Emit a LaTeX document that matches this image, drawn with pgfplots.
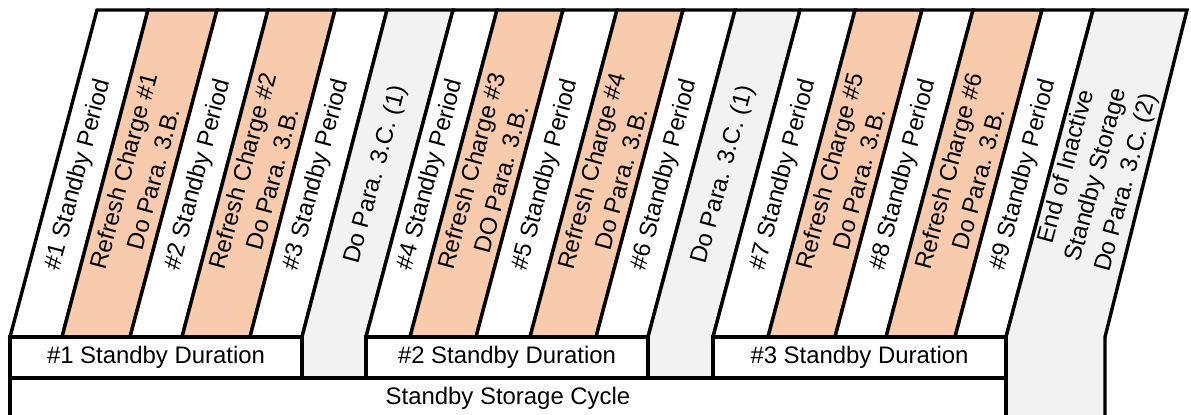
\documentclass[border=0pt]{standalone}
\usepackage{pgfplots}
\pgfplotsset{compat=1.18}
\usepackage{fontspec}
\setmainfont{Liberation Sans}
\definecolor{peach}{HTML}{F8CBAD}
\definecolor{lgray}{HTML}{F2F2F2}
\begin{document}
\begin{tikzpicture}
\begin{axis}[
    width=595.5bp, height=207.5bp, scale only axis,
    xmin=0, xmax=1191, ymin=0, ymax=415,
    hide axis,
    every axis plot/.append style={draw=black, line width=1.7bp},
  ]
% slanted strips: top edge at y=405, bottom edge at y=78
% group 1
\addplot[fill=white] coordinates {(97,405) (148,405) (62,78) (10,78)} --cycle;
\addplot[fill=peach] coordinates {(148,405) (217,405) (130,78) (62,78)} --cycle;
\addplot[fill=white] coordinates {(217,405) (268,405) (182,78) (130,78)} --cycle;
\addplot[fill=peach] coordinates {(268,405) (335,405) (250,78) (182,78)} --cycle;
\addplot[fill=white] coordinates {(335,405) (387,405) (302,78) (250,78)} --cycle;
\addplot[fill=lgray] coordinates {(387,405) (453,405) (366,78) (366,37) (302,37) (302,78)} --cycle;
% group 2
\addplot[fill=white] coordinates {(453,405) (497,405) (410,78) (366,78)} --cycle;
\addplot[fill=peach] coordinates {(497,405) (563,405) (476,78) (410,78)} --cycle;
\addplot[fill=white] coordinates {(563,405) (617,405) (530,78) (476,78)} --cycle;
\addplot[fill=peach] coordinates {(617,405) (683,405) (596,78) (530,78)} --cycle;
\addplot[fill=white] coordinates {(683,405) (735,405) (648,78) (596,78)} --cycle;
\addplot[fill=lgray] coordinates {(735,405) (800,405) (713,78) (713,37) (648,37) (648,78)} --cycle;
% group 3
\addplot[fill=white] coordinates {(800,405) (855,405) (768,78) (713,78)} --cycle;
\addplot[fill=peach] coordinates {(855,405) (922,405) (835,78) (768,78)} --cycle;
\addplot[fill=white] coordinates {(922,405) (973,405) (886,78) (835,78)} --cycle;
\addplot[fill=peach] coordinates {(973,405) (1042,405) (955,78) (886,78)} --cycle;
\addplot[fill=white] coordinates {(1042,405) (1093,405) (1006,78) (955,78)} --cycle;
\addplot[fill=lgray] coordinates {(1093,405) (1187,405) (1105,78) (1105,-10) (1006,-10) (1006,78)} --cycle;
% duration boxes
\addplot[fill=white] coordinates {(10,78) (302,78) (302,37) (10,37)} --cycle;
\addplot[fill=white] coordinates {(366,78) (648,78) (648,37) (366,37)} --cycle;
\addplot[fill=white] coordinates {(713,78) (1006,78) (1006,37) (713,37)} --cycle;
% cycle box
\addplot[fill=white] coordinates {(10,37) (1006,37) (1006,-10) (10,-10)} --cycle;

\begin{scope}[every node/.style={font=\fontsize{12}{15.5}\selectfont, align=center, inner sep=0pt, rotate=75}]
\node at (axis cs:78.5,240) {\#1 Standby Period};
\node at (axis cs:138.5,240) {Refresh Charge \#1\\Do Para. 3.B.};
\node at (axis cs:198.5,240) {\#2 Standby Period};
\node at (axis cs:257.5,240) {Refresh Charge \#2\\Do Para. 3.B.};
\node at (axis cs:317,240) {\#3 Standby Period};
\node at (axis cs:376,240) {Do Para. 3.C. (1)};
\node at (axis cs:431,240) {\#4 Standby Period};
\node at (axis cs:486,240) {Refresh Charge \#3\\DO Para. 3.B.};
\node at (axis cs:546,240) {\#5 Standby Period};
\node at (axis cs:606,240) {Refresh Charge \#4\\Do Para. 3.B.};
\node at (axis cs:665,240) {\#6 Standby Period};
\node at (axis cs:723.5,240) {Do Para. 3.C. (1)};
\node at (axis cs:783.5,240) {\#7 Standby Period};
\node at (axis cs:844.5,240) {Refresh Charge \#5\\Do Para. 3.B.};
\node at (axis cs:903.5,240) {\#8 Standby Period};
\node at (axis cs:963.5,240) {Refresh Charge \#6\\Do Para. 3.B.};
\node at (axis cs:1023.5,240) {\#9 Standby Period};
\node at (axis cs:1097,240) {End of Inactive\\Standby Storage\\Do Para. 3.C. (2)};
\end{scope}
\begin{scope}[every node/.style={font=\fontsize{12}{15.5}\selectfont, inner sep=0pt}]
\node at (axis cs:156,57.5) {\#1 Standby Duration};
\node at (axis cs:507,57.5) {\#2 Standby Duration};
\node at (axis cs:859.5,57.5) {\#3 Standby Duration};
\node at (axis cs:508,17) {Standby Storage Cycle};
\end{scope}
\end{axis}
\pgfresetboundingbox
\path[use as bounding box] (current axis.south west) rectangle (current axis.north east);
\end{tikzpicture}
\end{document}
